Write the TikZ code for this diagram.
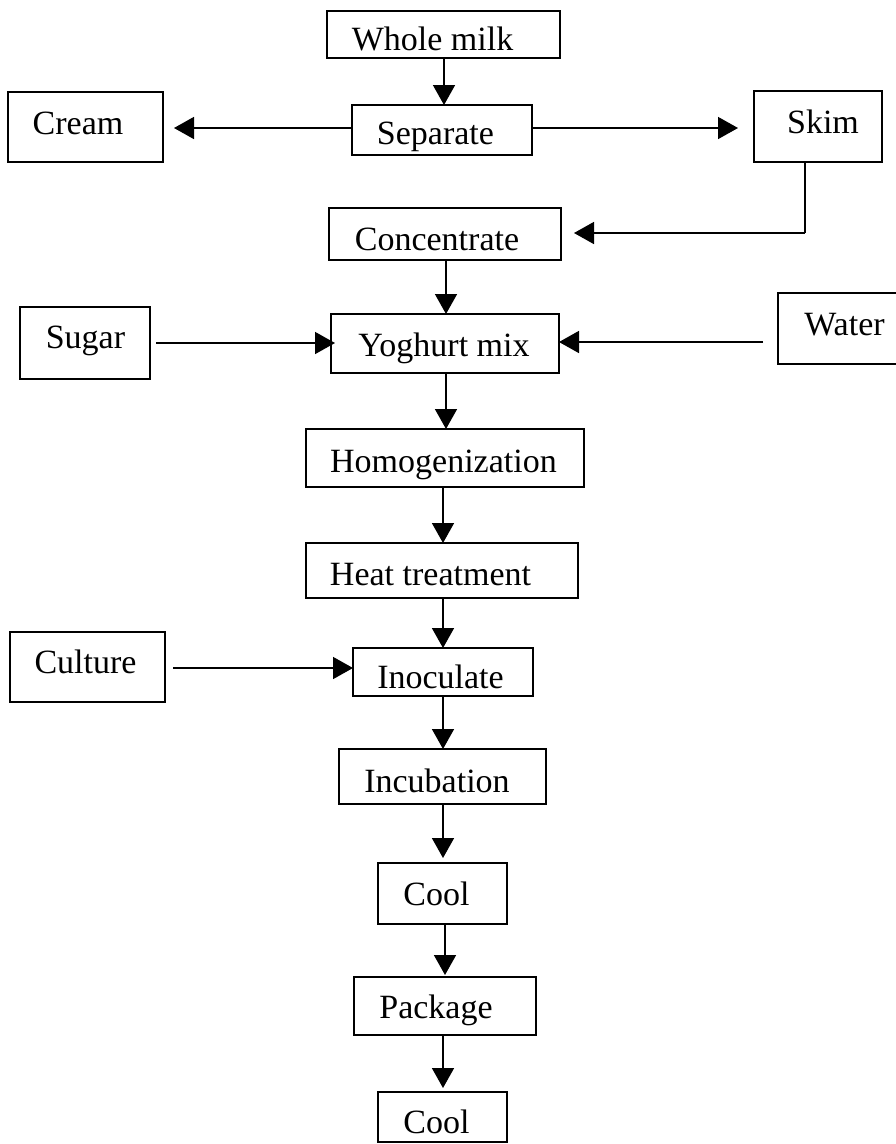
\documentclass[tikz,border=0pt]{standalone}
\usepackage{fontspec}
\setmainfont{Liberation Serif}
\usetikzlibrary{arrows.meta}

\begin{document}
\begin{tikzpicture}[x=1pt,y=-1pt,
  box/.style={draw, line width=1.6pt, inner sep=0pt, outer sep=0pt},
  lbl/.style={inner sep=0pt, anchor=base, font=\fontsize{34}{40}\selectfont},
  flow/.style={line width=1.6pt, -{Triangle[length=20pt,width=22pt]}},
  link/.style={line width=1.6pt}]
\useasboundingbox (0,0) rectangle (896,1144);
\clip (0,0) rectangle (896,1144);
\fill[white] (0,0) rectangle (896,1144);

% process boxes
\node[box, minimum width=233pt, minimum height=47pt] (wm)    at (443.5,34.5) {};
\node[box, minimum width=180pt, minimum height=50pt] (sep)   at (442,130) {};
\node[box, minimum width=155pt, minimum height=70pt] (cream) at (85.5,127) {};
\node[box, minimum width=128pt, minimum height=71pt] (skim)  at (818,126.5) {};
\node[box, minimum width=232pt, minimum height=52pt] (conc)  at (445,234) {};
\node[box, minimum width=228pt, minimum height=59pt] (yog)   at (445,343.5) {};
\node[box, minimum width=130pt, minimum height=72pt] (sugar) at (85,343) {};
\node[box, minimum width=127pt, minimum height=71pt] (water) at (841.5,328.5) {};
\node[box, minimum width=278pt, minimum height=58pt] (homog) at (445,458) {};
\node[box, minimum width=272pt, minimum height=55pt] (heat)  at (442,570.5) {};
\node[box, minimum width=180pt, minimum height=48pt] (inoc)  at (443,672) {};
\node[box, minimum width=155pt, minimum height=70pt] (cult)  at (87.5,667) {};
\node[box, minimum width=207pt, minimum height=55pt] (incub) at (442.5,776.5) {};
\node[box, minimum width=129pt, minimum height=61pt] (coolA) at (442.5,893.5) {};
\node[box, minimum width=182pt, minimum height=58pt] (pack)  at (445,1006) {};
\node[box, minimum width=129pt, minimum height=50pt] (coolB) at (442.5,1117) {};

% box texts
\node[lbl] (t-wm)    at (432.5,50)  {Whole milk};
\node[lbl] (t-sep)   at (435.5,144) {Separate};
\node[lbl] (t-cream) at (78,134)    {Cream};
\node[lbl] (t-skim)  at (823,133)   {Skim};
\node[lbl] (t-conc)  at (437,250)   {Concentrate};
\node[lbl] (t-yog)   at (444,356)   {Yoghurt mix};
\node[lbl] (t-sugar) at (85.5,348)  {Sugar};
\node[lbl] (t-water) at (844.5,335) {Water};
\node[lbl] (t-homog) at (443.5,472) {Homogenization};
\node[lbl] (t-heat)  at (430.5,585) {Heat treatment};
\node[lbl] (t-inoc)  at (440.5,688) {Inoculate};
\node[lbl] (t-cult)  at (85.5,673)  {Culture};
\node[lbl] (t-incub) at (437,792)   {Incubation};
\node[lbl] (t-coolA) at (436.5,905) {Cool};
\node[lbl] (t-pack)  at (436,1018)  {Package};
\node[lbl] (t-coolB) at (436.5,1133){Cool};

% flow connectors
\draw[flow] (wm.south -| 444,0) -- (sep.north -| 444,0);
\draw[flow, shorten >=11pt] (sep.west |- 0,128) -- (cream.east |- 0,128);
\draw[flow, shorten >=16pt] (sep.east |- 0,128) -- (skim.west |- 0,128);
\coordinate (bend) at (805,233);
\draw[link] (skim.south -| bend) -- (bend);
\draw[flow, shorten >=13pt] (bend) -- (conc.east |- bend);
\draw[flow] (conc.south -| 446,0) -- (yog.north -| 446,0);
\draw[flow, shorten <=6pt, shorten >=-4pt] (sugar.east |- 0,343) -- (yog.west |- 0,343);
\draw[flow, shorten <=15pt] (water.west |- 0,342) -- (yog.east |- 0,342);
\draw[flow] (yog.south -| 446,0) -- (homog.north -| 446,0);
\draw[flow] (homog.south -| 443,0) -- (heat.north -| 443,0);
\draw[flow] (heat.south -| 443,0) -- (inoc.north -| 443,0);
\draw[flow, shorten <=8pt] (cult.east |- 0,668) -- (inoc.west |- 0,668);
\draw[flow] (inoc.south -| 443,0) -- (incub.north -| 443,0);
\draw[flow, shorten >=5pt] (incub.south -| 443,0) -- (coolA.north -| 443,0);
\draw[flow, shorten >=2pt] (coolA.south -| 445,0) -- (pack.north -| 445,0);
\draw[flow, shorten >=4pt] (pack.south -| 443,0) -- (coolB.north -| 443,0);
\end{tikzpicture}
\end{document}
